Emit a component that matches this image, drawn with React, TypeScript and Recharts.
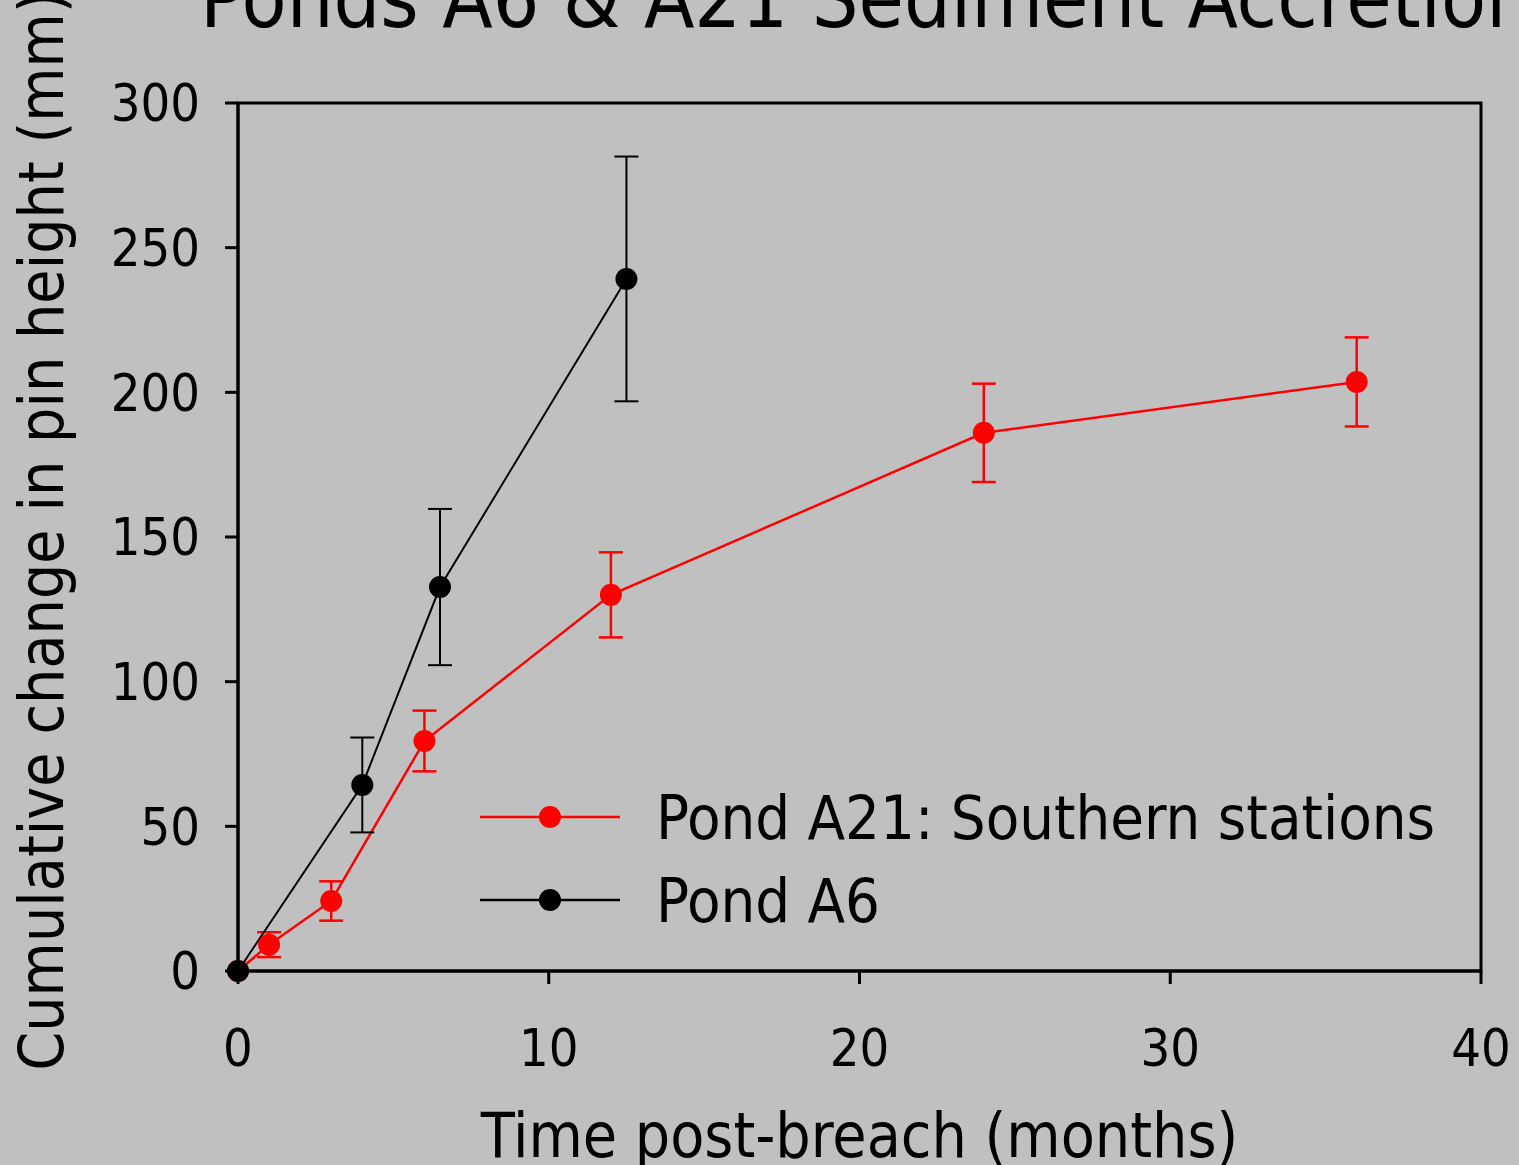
import React from 'react';
import { LineChart, Line, XAxis, YAxis, ErrorBar, ReferenceArea, Legend } from 'recharts';

const a21Months = [0, 1, 3, 6, 12, 24, 36];
const a21Values = [0, 9.1, 24.2, 79.5, 130, 186, 203.6];
const a21Errors = [0, 4.3, 6.8, 10.5, 14.7, 17, 15.4];

const a6Months = [0, 4, 6.5, 12.5];
const a6Values = [0, 64.3, 132.7, 239.2];
const a6Errors = [0, 16.4, 27, 42.3];

const xTicks = [0, 10, 20, 30, 40];
const yTicks = [0, 50, 100, 150, 200, 250, 300];

const seriesNames = ['Pond A21: Southern stations', 'Pond A6'];
const titleText = 'Ponds A6 & A21 Sediment Accretion';
const xLabel = 'Time post-breach (months)';
const yLabel = 'Cumulative change in pin height (mm)';

const a21Data = a21Months.map((m, i) => ({ month: m, value: a21Values[i], err: a21Errors[i] }));
const a6Data = a6Months.map((m, i) => ({ month: m, value: a6Values[i], err: a6Errors[i] }));

const FONT = "'DejaVu Sans Condensed', 'DejaVu Sans', sans-serif";
const W = 1519;
const H = 1165;

const LegendContent = () => {
  const items = [
    { name: seriesNames[0], color: '#ff0000' },
    { name: seriesNames[1], color: '#000000' },
  ];
  return (
    <svg width={1000} height={170} style={{ overflow: 'visible' }}>
      {items.map((it, i) => (
        <g key={it.name} transform={`translate(0, ${i * 83})`}>
          <line x1={0} x2={140} y1={32} y2={32} stroke={it.color} strokeWidth={2.5} />
          <circle cx={70} cy={32} r={11} fill={it.color} />
          <text x={176} y={32} dy="0.355em" fontSize={61} fontFamily={FONT} fill="#000">
            {it.name}
          </text>
        </g>
      ))}
    </svg>
  );
};

const YLabel = (props: any) => {
  const vb = props.viewBox || {};
  const cy = (vb.y ?? 103) + (vb.height ?? 868) / 2 - 6;
  return (
    <text
      transform={`translate(63, ${cy}) rotate(-90)`}
      x={0}
      y={0}
      textAnchor="middle"
      fontSize={62}
      fontFamily={FONT}
      fill="#000"
    >
      {yLabel}
    </text>
  );
};

export default function App() {
  return (
    <div style={{ position: 'absolute', left: 0, top: 0, width: W, height: H, background: '#c0c0c0', overflow: 'hidden' }}>
      <LineChart width={W} height={H} margin={{ top: 103, right: 38, bottom: 0, left: 0 }}>
        <ReferenceArea x1={0} x2={40} y1={0} y2={300} fill="none" stroke="#000" strokeWidth={3} ifOverflow="extendDomain" />
        <XAxis
          dataKey="month"
          type="number"
          domain={[0, 40]}
          ticks={xTicks}
          height={194}
          tickSize={13}
          tickMargin={45}
          axisLine={{ stroke: '#000', strokeWidth: 3 }}
          tickLine={{ stroke: '#000', strokeWidth: 3 }}
          tick={{ fill: '#000', fontSize: 52, fontFamily: FONT }}
          label={{ value: xLabel, position: 'insideBottom', offset: 8, fill: '#000', fontSize: 62, fontFamily: FONT }}
        />
        <YAxis
          type="number"
          domain={[0, 300]}
          ticks={yTicks}
          width={238}
          tickSize={13}
          tickMargin={25}
          axisLine={{ stroke: '#000', strokeWidth: 3 }}
          tickLine={{ stroke: '#000', strokeWidth: 3 }}
          tick={{ fill: '#000', fontSize: 52, fontFamily: FONT }}
          label={<YLabel />}
        />
        <Legend
          layout="horizontal"
          verticalAlign="middle"
          align="center"
          content={<LegendContent />}
          wrapperStyle={{ position: 'absolute', left: 480, top: 785, width: 1000, height: 170 }}
        />
        <Line
          data={a21Data}
          dataKey="value"
          name={seriesNames[0]}
          stroke="#ff0000"
          strokeWidth={2.5}
          dot={{ r: 11, fill: '#ff0000', stroke: 'none' }}
          isAnimationActive={false}
        >
          <ErrorBar dataKey="err" direction="y" width={12} stroke="#ff0000" strokeWidth={2.5} />
        </Line>
        <Line
          data={a6Data}
          dataKey="value"
          name={seriesNames[1]}
          stroke="#000000"
          strokeWidth={2}
          dot={{ r: 11, fill: '#000000', stroke: 'none' }}
          isAnimationActive={false}
        >
          <ErrorBar dataKey="err" direction="y" width={12} stroke="#000000" strokeWidth={2} />
        </Line>
      </LineChart>
      <svg width={W} height={60} style={{ position: 'absolute', left: 0, top: 0, pointerEvents: 'none' }}>
        <text x={200} y={27} fontSize={82} fontFamily={FONT} fill="#000">{titleText}</text>
      </svg>
    </div>
  );
}
